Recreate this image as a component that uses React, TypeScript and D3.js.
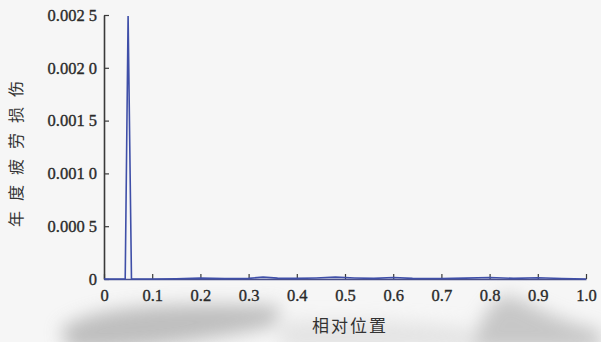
import React, { useEffect, useRef } from 'react';
import * as d3 from 'd3';

// relative position along the member, annual fatigue damage
const positions = [0, 0.02, 0.04, 0.044, 0.05, 0.057, 0.06, 0.1, 0.15, 0.2, 0.25, 0.3, 0.33, 0.36, 0.4, 0.44, 0.48, 0.52, 0.56, 0.6, 0.64, 0.7, 0.75, 0.8, 0.85, 0.9, 0.95, 1.0];
const damage = [0, 0, 0, 0, 0.00249, 0, 0, 0, 0.000003, 0.000008, 0.000004, 0.000006, 0.000018, 0.000008, 0.000006, 0.00001, 0.000018, 0.00001, 0.000006, 0.000014, 0.000006, 0.000005, 0.000008, 0.000014, 0.000006, 0.000012, 0.000005, 0];

const xTicks = [0, 0.1, 0.2, 0.3, 0.4, 0.5, 0.6, 0.7, 0.8, 0.9, 1.0];
const xTickLabels = ['0', '0.1', '0.2', '0.3', '0.4', '0.5', '0.6', '0.7', '0.8', '0.9', '1.0'];
const yTicks = [0, 0.0005, 0.001, 0.0015, 0.002, 0.0025];
const yTickLabels = ['0', '0.000 5', '0.001 0', '0.001 5', '0.002 0', '0.002 5'];

const xTitle = '相对位置';
const yTitle = '年度疲劳损伤';

const App = () => {
  const svgRef = useRef<SVGSVGElement>(null);
  const width = 601;
  const height = 342;

  useEffect(() => {
    if (!svgRef.current) return;
    const svg = d3.select(svgRef.current);
    svg.selectAll('*').remove();

    const margin = { top: 15, right: 15, bottom: 63, left: 104 };
    const innerWidth = width - margin.left - margin.right;
    const innerHeight = height - margin.top - margin.bottom;

    // scanned-paper background
    const defs = svg.append('defs');
    defs.append('filter')
      .attr('id', 'blur')
      .attr('x', '-30%').attr('y', '-80%').attr('width', '160%').attr('height', '260%')
      .append('feGaussianBlur')
      .attr('stdDeviation', 9);

    svg.append('rect')
      .attr('width', width)
      .attr('height', height)
      .attr('fill', '#f6f6f6');

    const bg = svg.append('g').attr('filter', 'url(#blur)').attr('opacity', 0.6);
    bg.append('path')
      .attr('d', 'M60,330 C90,304 180,302 280,306 L275,326 C200,342 120,352 70,350 Z')
      .attr('fill', '#9a9a9a');
    bg.append('path')
      .attr('d', 'M470,350 C480,318 495,292 512,296 C535,306 560,322 601,330 L601,350 Z')
      .attr('fill', '#a8a8a8');
    bg.append('path')
      .attr('d', 'M280,322 C330,318 400,320 470,328 L470,350 L280,350 Z')
      .attr('fill', '#d8d8d8');

    const g = svg.append('g')
      .attr('transform', `translate(${margin.left}, ${margin.top})`);

    const x = d3.scaleLinear().domain([0, 1]).range([0, innerWidth]);
    const y = d3.scaleLinear().domain([0, 0.0025]).range([innerHeight, 0]);

    const axisColor = '#3a3a3a';
    const font = "'Liberation Serif', 'DejaVu Serif', serif";

    // y axis with inward ticks
    const yAxis = g.append('g')
      .call(d3.axisLeft(y).tickValues(yTicks).tickSize(0).tickFormat((_, i) => yTickLabels[i]).tickPadding(7))
      .style('font-family', font)
      .style('font-size', '16.5px');
    yAxis.select('.domain').attr('stroke', axisColor).attr('stroke-width', 1.6);
    yAxis.selectAll('.tick text')
      .attr('fill', '#2a2a2a')
      .attr('stroke', '#2a2a2a')
      .attr('stroke-width', 0.35);
    yAxis.selectAll('.tick')
      .append('line')
      .attr('x1', 0).attr('x2', 5)
      .attr('stroke', axisColor).attr('stroke-width', 1.2);

    // x axis with inward ticks
    const xAxis = g.append('g')
      .attr('transform', `translate(0, ${innerHeight})`)
      .call(d3.axisBottom(x).tickValues(xTicks).tickSize(0).tickFormat((_, i) => xTickLabels[i]).tickPadding(10))
      .style('font-family', font)
      .style('font-size', '16.5px');
    xAxis.select('.domain').attr('stroke', '#4a4f8a').attr('stroke-width', 1.6);
    xAxis.selectAll('.tick text')
      .attr('fill', '#2a2a2a')
      .attr('stroke', '#2a2a2a')
      .attr('stroke-width', 0.35);
    xAxis.selectAll('.tick')
      .append('line')
      .attr('y1', 0).attr('y2', -5)
      .attr('stroke', axisColor).attr('stroke-width', 1.2);

    // damage curve
    const line = d3.line<number>()
      .x((_, i) => x(positions[i]))
      .y(d => y(d));

    g.append('path')
      .datum(damage)
      .attr('d', line)
      .attr('fill', 'none')
      .attr('stroke', '#3f4fa8')
      .attr('stroke-width', 1.6)
      .attr('stroke-linejoin', 'miter');

    // axis titles
    svg.append('text')
      .attr('x', 350)
      .attr('y', 332)
      .attr('text-anchor', 'middle')
      .attr('font-family', '"Noto Sans CJK SC", sans-serif')
      .attr('font-size', 17)
      .attr('letter-spacing', 2)
      .attr('fill', '#333')
      .text(xTitle);

    svg.append('text')
      .attr('transform', 'translate(22, 149) rotate(-90)')
      .attr('text-anchor', 'middle')
      .attr('font-family', '"Noto Sans CJK SC", sans-serif')
      .attr('font-size', 16)
      .attr('letter-spacing', 10)
      .attr('fill', '#333')
      .text(yTitle);
  }, []);

  return (
    <svg
      ref={svgRef}
      width={width}
      height={height}
      style={{ position: 'absolute', left: 0, top: 0, display: 'block' }}
    />
  );
};

export default App;
